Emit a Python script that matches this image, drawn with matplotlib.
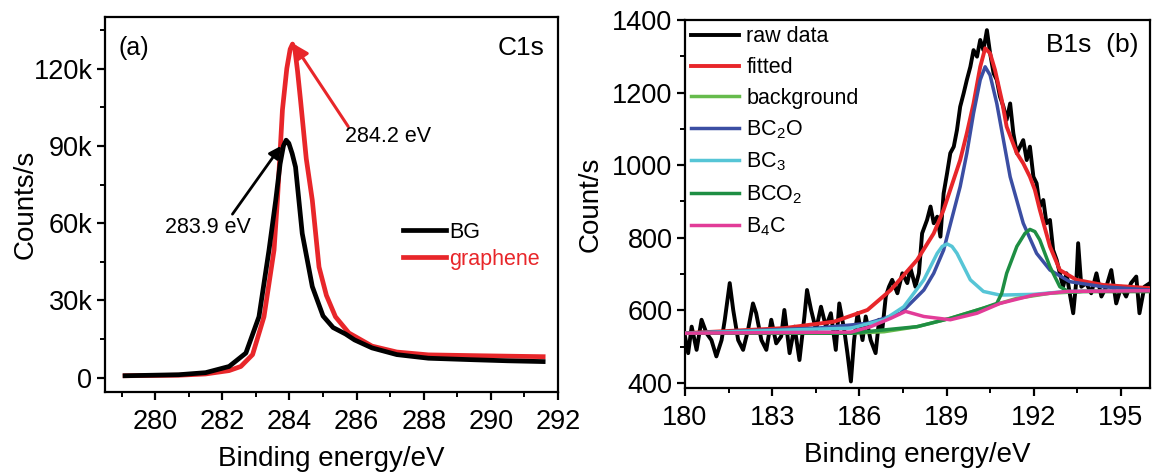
"""
XPS spectra: C1s (a) and B1s fitting (b)
"""

import matplotlib
matplotlib.use('Agg')
import matplotlib.pyplot as plt
from matplotlib.ticker import MultipleLocator, FuncFormatter

plt.rcParams['font.family'] = ['Liberation Sans', 'DejaVu Sans']
plt.rcParams['mathtext.fontset'] = 'custom'
plt.rcParams['mathtext.rm'] = 'Liberation Sans'
plt.rcParams['mathtext.it'] = 'Liberation Sans:italic'

# ---- panel (a): C1s, counts in k
bg_x = [279.1, 280.7, 281.5, 282.2, 282.7, 283.09, 283.39, 283.59, 283.72, 283.82,
        283.9, 283.98, 284.08, 284.18, 284.38, 284.68, 285.0, 285.3, 285.67, 285.94,
        286.46, 287.2, 288.14, 289.5, 290.5, 291.56]
bg_y = [0.8, 1.2, 2.0, 4.4, 9.6, 23.7, 49.6, 68.9, 83.0, 90.0,
        92.2, 91.0, 87.0, 81.8, 56.0, 35.4, 24.0, 19.5, 17.0, 14.7,
        11.6, 9.0, 7.6, 7.0, 6.6, 6.3]

gr_x = [279.1, 280.7, 281.5, 282.2, 282.55, 282.9, 283.24, 283.54, 283.64, 283.79,
        283.92, 284.02, 284.09, 284.16, 284.24, 284.33, 284.5, 284.68, 284.88, 285.1,
        285.37, 285.77, 286.46, 287.2, 288.14, 289.5, 290.5, 291.56]
gr_y = [0.8, 1.0, 1.5, 2.8, 4.4, 9.0, 23.7, 49.6, 68.9, 104.0,
        120.0, 127.5, 129.5, 127.5, 119.0, 107.6, 85.0, 68.9, 43.0, 32.0,
        23.7, 17.4, 12.3, 10.0, 8.9, 8.6, 8.4, 8.2]

# ---- panel (b): B1s
raw_x = [180.00, 180.11, 180.23, 180.40, 180.57, 180.74, 180.91, 181.08, 181.26, 181.37,
         181.54, 181.66, 181.83, 182.00, 182.17, 182.34, 182.45, 182.63, 182.80, 182.97,
         183.14, 183.31, 183.42, 183.60, 183.77, 183.94, 184.11, 184.20, 184.34, 184.51,
         184.68, 184.85, 185.02, 185.19, 185.31, 185.48, 185.59, 185.71, 185.82, 185.94,
         186.11, 186.22, 186.39, 186.56, 186.68, 186.79, 186.91, 187.02, 187.13, 187.31,
         187.48, 187.65, 187.76, 187.93, 188.05, 188.16, 188.33, 188.45, 188.56, 188.68,
         188.79, 188.90, 189.02, 189.13, 189.25, 189.36, 189.47, 189.59, 189.70, 189.82,
         189.93, 190.05, 190.16, 190.27, 190.39, 190.50, 190.62, 190.73, 190.84, 190.96,
         191.07, 191.19, 191.30, 191.42, 191.53, 191.64, 191.76, 191.87, 191.99, 192.10,
         192.21, 192.33, 192.44, 192.56, 192.67, 192.79, 192.90, 193.01, 193.13, 193.24,
         193.36, 193.47, 193.53, 193.64, 193.81, 193.98, 194.16, 194.33, 194.50, 194.67,
         194.84, 195.01, 195.18, 195.35, 195.53, 195.64, 195.81, 196.00]
raw_y = [528, 482, 555, 491, 574, 537, 518, 473, 518, 574,
         675, 601, 518, 491, 546, 619, 592, 518, 491, 574,
         509, 528, 601, 482, 555, 463, 583, 656, 601, 546,
         610, 555, 592, 491, 619, 546, 482, 404, 518, 592,
         518, 583, 518, 482, 574, 546, 638, 665, 684, 647,
         702, 675, 716, 665, 702, 812, 849, 886, 840, 858,
         803, 922, 978, 1033, 1051, 1097, 1161, 1198, 1235, 1271,
         1317, 1299, 1345, 1317, 1372, 1308, 1253, 1235, 1189, 1161,
         1125, 1170, 1088, 1033, 1051, 1069, 1014, 1051, 968, 950,
         886, 904, 840, 849, 766, 739, 702, 665, 702, 647,
         592, 684, 785, 665, 675, 647, 702, 638, 665, 711,
         619, 665, 638, 675, 693, 592, 665, 675]

fit_x = [180.00, 183.42, 185.14, 186.28, 187.08, 187.99, 188.56, 188.90, 189.47, 189.70,
         189.93, 190.16, 190.33, 190.50, 190.67, 190.90, 191.07, 191.42, 191.64, 191.87,
         192.04, 192.21, 192.56, 192.90, 193.47, 194.38, 196.00]
fit_y = [537, 551, 569, 601, 656, 739, 812, 877, 1014, 1088,
         1170, 1271, 1322, 1308, 1262, 1180, 1106, 1033, 1005, 968,
         932, 877, 776, 711, 684, 670, 661]

back_x = [180.00, 185.71, 186.85, 187.99, 189.13, 190.27, 191.42, 192.56, 193.70, 196.00]
back_y = [537, 537, 541, 555, 578, 606, 633, 647, 652, 652]

bc2o_x = [180.00, 184.57, 186.28, 187.42, 188.22, 188.56, 188.90, 189.47, 189.70, 189.93,
          190.16, 190.33, 190.50, 190.73, 190.96, 191.19, 191.64, 192.10, 192.56, 193.24,
          194.38, 196.00]
bc2o_y = [537, 551, 564, 592, 656, 702, 766, 941, 1033, 1143,
          1235, 1271, 1248, 1170, 1069, 968, 840, 757, 711, 679,
          665, 656]

bc3_x = [180.00, 185.71, 186.85, 187.53, 188.22, 188.68, 188.85, 189.02, 189.19, 189.36,
         189.82, 190.27, 190.84, 191.99, 193.13, 196.00]
bc3_y = [537, 551, 574, 610, 684, 757, 776, 783, 776, 757,
         684, 652, 642, 644, 652, 654]

bco2_x = [180.00, 185.71, 187.99, 189.13, 190.27, 190.73, 190.90, 191.07, 191.42, 191.70,
          191.87, 192.04, 192.21, 192.56, 192.90, 193.24, 193.70, 196.00]
bco2_y = [537, 537, 555, 578, 606, 619, 647, 702, 776, 812,
          823, 817, 794, 720, 665, 650, 652, 652]

b4c_x = [180.00, 185.71, 186.39, 187.08, 187.59, 188.22, 189.13, 190.05, 190.84, 191.99,
         193.13, 196.00]
b4c_y = [537, 540, 555, 578, 597, 583, 574, 592, 619, 642,
         652, 654]

LABEL_FS = 20
TICK_FS = 19.5


def style_axes(ax):
    for sp in ax.spines.values():
        sp.set_linewidth(1.6)
    ax.tick_params(which='major', direction='out', length=6, width=1.6,
                   labelsize=TICK_FS)
    ax.tick_params(axis='x', which='major', pad=6)
    ax.tick_params(axis='y', which='major', pad=3)
    ax.tick_params(which='minor', direction='out', length=3.5, width=1.4)


def plot_c1s(fig):
    ax = fig.add_axes([0.0911, 0.1765, 0.3932, 0.7878])
    ax.plot(bg_x, bg_y, color='black', lw=3.4, label='BG', zorder=3)
    ax.plot(gr_x, gr_y, color='#e8262a', lw=3.4, label='graphene', zorder=2)
    ax.set_xlim(278.5, 292)
    ax.set_ylim(-5.5, 140)
    ax.xaxis.set_major_locator(MultipleLocator(2))
    ax.xaxis.set_minor_locator(MultipleLocator(1))
    ax.yaxis.set_major_locator(MultipleLocator(30))
    ax.yaxis.set_minor_locator(MultipleLocator(15))
    ax.yaxis.set_major_formatter(FuncFormatter(lambda v, p: '0' if v == 0 else '%dk' % v))
    style_axes(ax)
    ax.set_xlabel('Binding energy/eV', fontsize=LABEL_FS, labelpad=8)
    ax.set_ylabel('Counts/s', fontsize=LABEL_FS, labelpad=-4)

    ax.text(0.03, 0.95, '(a)', transform=ax.transAxes, fontsize=18, va='top', ha='left')
    ax.text(0.97, 0.95, 'C1s', transform=ax.transAxes, fontsize=19, va='top', ha='right')

    # peak arrows
    ax.annotate('', xy=(284.12, 129.6), xytext=(285.75, 97.5),
                arrowprops=dict(arrowstyle='-|>', color='#e8262a', lw=2.2, mutation_scale=22,
                                shrinkA=0, shrinkB=0))
    ax.text(285.65, 93.5, '284.2 eV', fontsize=15.5, va='center', ha='left')
    ax.annotate('', xy=(283.75, 90.0), xytext=(282.3, 63.5),
                arrowprops=dict(arrowstyle='-|>', color='black', lw=2.0, mutation_scale=18,
                                shrinkA=0, shrinkB=0))
    ax.text(280.3, 58.5, '283.9 eV', fontsize=15.5, va='center', ha='left')

    leg = ax.legend(loc='center left', bbox_to_anchor=(0.625, 0.39), frameon=False,
                    fontsize=15.5, handlelength=2.0, handletextpad=0.15,
                    labelspacing=0.3, borderpad=0.2)
    leg.get_texts()[1].set_color('#e8262a')
    return ax


def plot_b1s(fig):
    ax = fig.add_axes([0.5946, 0.1849, 0.4036, 0.7731])
    ax.plot(raw_x, raw_y, color='black', lw=2.8, label='raw data', zorder=2)
    ax.plot(fit_x, fit_y, color='#e8262a', lw=2.8, label='fitted', zorder=3)
    ax.plot(back_x, back_y, color='#66bb4c', lw=2.5, label='background', zorder=4)
    ax.plot(bc2o_x, bc2o_y, color='#3b4ea3', lw=2.5, label='BC$_\\mathregular{2}$O', zorder=5)
    ax.plot(bc3_x, bc3_y, color='#56c5d6', lw=2.5, label='BC$_\\mathregular{3}$', zorder=6)
    ax.plot(bco2_x, bco2_y, color='#1e8e43', lw=2.5, label='BCO$_\\mathregular{2}$', zorder=7)
    ax.plot(b4c_x, b4c_y, color='#e23c98', lw=2.5, label='B$_\\mathregular{4}$C', zorder=8)
    ax.set_xlim(180, 196)
    ax.set_ylim(386, 1400)
    ax.xaxis.set_major_locator(MultipleLocator(3))
    ax.xaxis.set_minor_locator(MultipleLocator(1.5))
    ax.yaxis.set_major_locator(MultipleLocator(200))
    ax.yaxis.set_minor_locator(MultipleLocator(100))
    style_axes(ax)
    ax.set_xlabel('Binding energy/eV', fontsize=LABEL_FS, labelpad=8)
    ax.set_ylabel('Count/s', fontsize=LABEL_FS, labelpad=6)

    ax.text(0.975, 0.965, 'B1s  (b)', transform=ax.transAxes, fontsize=19, va='top', ha='right')

    ax.legend(loc='upper left', frameon=False, fontsize=15.5, handlelength=2.2,
              handletextpad=0.35, labelspacing=0.45, borderpad=0.05, borderaxespad=0.25)
    return ax


if __name__ == "__main__":
    fig = plt.figure(figsize=(11.52, 4.76), dpi=100)
    plot_c1s(fig)
    plot_b1s(fig)
    fig.savefig('out.png', dpi=100)
